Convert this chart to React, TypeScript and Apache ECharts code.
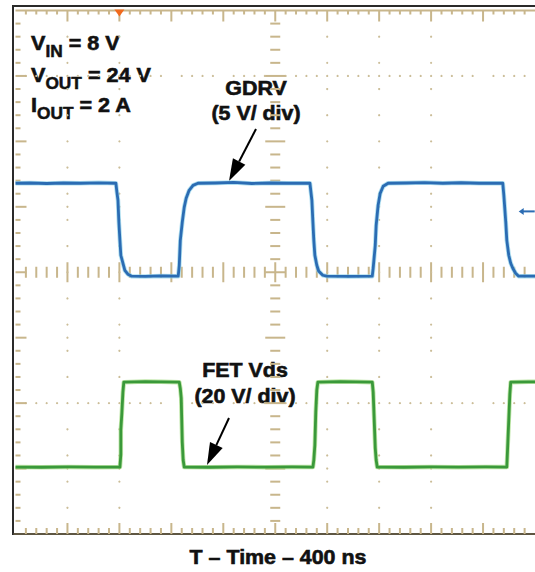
import React, { useEffect, useRef } from "react";
import * as echarts from "echarts";

// ---- scope settings ----
const NS_PER_DIV = 400; // T – Time – 400 ns
const X_DIVS = 10;
const Y_DIVS = 8;
const gdrvAxisRange: [number, number] = [-20, 20]; // 5 V/div, ground at centre
const fetAxisRange: [number, number] = [-20, 140]; // 20 V/div

// ---- GDRV trace: [time ns, volts] ----
const gdrvTrace: [number, number][] = [
  [0, 6.8], [110, 6.82], [240, 6.78], [370, 6.82], [500, 6.8], [640, 6.83], [773, 6.8],
  [781, 6.11], [789, 5.5], [796, 3.82], [804, 2.44], [811, 1.3], [827, 0.69], [842, 0.15], [865, -0.15], [895, -0.3],
  [1000, -0.32], [1120, -0.28], [1253, -0.3],
  [1261, 0.53], [1269, 2.44], [1284, 3.82], [1299, 4.96], [1314, 5.65], [1337, 6.26], [1367, 6.64], [1405, 6.8],
  [1540, 6.82], [1680, 6.86], [1820, 6.78], [1960, 6.82], [2100, 6.8], [2267, 6.8],
  [2282, 5.5], [2290, 3.82], [2297, 2.44], [2305, 1.3], [2320, 0.53], [2335, 0.08], [2366, -0.23], [2396, -0.3],
  [2570, -0.32], [2747, -0.3],
  [2754, 0.31], [2770, 2.06], [2777, 3.59], [2792, 5.12], [2808, 6.03], [2831, 6.57], [2869, 6.8],
  [3010, 6.82], [3150, 6.85], [3290, 6.8], [3430, 6.84], [3570, 6.8], [3752, 6.8],
  [3760, 5.9], [3775, 3.82], [3783, 2.44], [3798, 1.3], [3813, 0.69], [3829, 0.31], [3851, -0.08], [3874, -0.3],
  [4000, -0.3],
];

// ---- FET Vds trace: [time ns, volts] ----
const fetTrace: [number, number][] = [
  [0, 0.46], [200, 0.4], [410, 0.5], [620, 0.42], [804, 0.46],
  [811, 4.3], [811, 11.76], [819, 17], [827, 23.36], [834, 26.41],
  [1000, 26.6], [1120, 26.5], [1261, 26.41],
  [1269, 24.5], [1276, 21.53], [1284, 8.09], [1291, 2.6], [1299, 0.46],
  [1500, 0.4], [1710, 0.5], [1920, 0.42], [2130, 0.5], [2290, 0.46],
  [2297, 2.6], [2305, 7.2], [2312, 17.25], [2320, 23.97], [2328, 26.41],
  [2500, 26.6], [2620, 26.5], [2747, 26.41],
  [2754, 23.36], [2762, 14.81], [2770, 6.26], [2777, 2.6], [2785, 0.46],
  [2990, 0.4], [3200, 0.5], [3410, 0.42], [3620, 0.5], [3783, 0.46],
  [3790, 7.18], [3798, 14.81], [3806, 22.5], [3813, 26.41],
  [3950, 26.5], [4000, 26.5],
];

// ---- texts ----
const conditionLines = ["{b|V}{s|IN}{b| = 8 V}", "{b|V}{s|OUT}{b| = 24 V}", "{b|I}{s|OUT}{b| = 2 A}"];
const gdrvLabel = ["GDRV", "(5 V/ div)"];
const fetLabel = ["FET Vds", "(20 V/ div)"];
const xAxisTitle = "T – Time – 400 ns";

// graticule layout (in divisions)
const dottedRows = [2, 7];
const dottedCols = [1, 2, 6, 7, 8];

const FONT = "'Liberation Sans', Arial, Helvetica, sans-serif";
const TAN = "#c8b68c";
const DOT = "#cbbd98";
const INK = "#111";

function renderGraticule(params: any, api: any) {
  if (params.dataIndex !== 0) return null;
  const P = (t: number, d: number) => api.coord([t, d]);
  const children: any[] = [];
  const line = (x1: number, y1: number, x2: number, y2: number, color: string, w: number) =>
    children.push({ type: "line", silent: true, shape: { x1, y1, x2, y2 }, style: { stroke: color, lineWidth: w } });
  const dot = (x: number, y: number) =>
    children.push({ type: "circle", silent: true, shape: { cx: x, cy: y, r: 1.1 }, style: { fill: DOT } });
  const tMax = X_DIVS * NS_PER_DIV;
  const minorT = NS_PER_DIV / 5;
  const [lx, topY] = P(0, Y_DIVS);
  const [rx, botY] = P(tMax, 0);
  const [cx, cy] = P(tMax / 2, Y_DIVS / 2);

  line(lx, topY, rx, topY, TAN, 2);
  line(lx - 2, botY, rx, botY, "#5e5642", 2);

  for (let i = 1; i < X_DIVS * 5; i++) {
    const x = P(i * minorT, 0)[0];
    const major = i % 5 === 0;
    line(x, topY, x, topY + (major ? 11 : 4), TAN, 2);
    line(x, botY, x, botY - (major ? 11 : 6), TAN, 2);
    line(x, cy - (major ? 10 : 5.5), x, cy + (major ? 10 : 5.5), TAN, 2);
    if (!major) dottedRows.forEach((r) => dot(x, P(0, r)[1]));
  }
  for (let j = 1; j < Y_DIVS * 5; j++) {
    const y = P(0, j / 5)[1];
    const major = j % 5 === 0;
    line(lx, y, lx + (major ? 11 : 5), y, TAN, 2);
    line(cx - (major ? 10 : 5), y, cx + (major ? 10 : 5), y, TAN, 2);
    if (j % 2 === 0 || major) dottedCols.forEach((c) => dot(P(c * NS_PER_DIV, 0)[0], y));
  }

  // trigger position marker (orange) at top
  const [tx] = P(2 * NS_PER_DIV, 0);
  children.push({
    type: "polygon", silent: true,
    shape: { points: [[tx - 5, topY - 1], [tx + 5, topY - 1], [tx, topY + 6]] },
    style: { fill: "#f06a1e" },
  });
  // channel marker on the right
  const [mx, my] = P(3890, 4.93);
  children.push({
    type: "polygon", silent: true,
    shape: { points: [[mx - 2, my], [mx + 3, my - 3.5], [mx + 3, my + 3.5]] },
    style: { fill: "#2b6cb3" },
  });
  line(mx + 2, my, mx + 14, my, "#2b6cb3", 2);

  return { type: "group", children };
}

function arrow(x1: number, y1: number, tipX: number, tipY: number) {
  const dx = tipX - x1;
  const dy = tipY - y1;
  const len = Math.hypot(dx, dy);
  const ux = dx / len;
  const uy = dy / len;
  const hl = 22;
  const hw = 7;
  const bx = tipX - ux * hl;
  const by = tipY - uy * hl;
  return [
    { type: "line", silent: true, shape: { x1, y1, x2: bx, y2: by }, style: { stroke: "#000", lineWidth: 2 } },
    {
      type: "polygon", silent: true,
      shape: { points: [[tipX, tipY], [bx - uy * hw, by + ux * hw], [bx + uy * hw, by - ux * hw]] },
      style: { fill: "#000" },
    },
  ];
}

function boldText(text: string, x: number, y: number) {
  return {
    type: "text", silent: true, x, y, scaleX: 1.07,
    style: {
      text, fill: INK, stroke: INK, lineWidth: 0.6, font: `bold 20px ${FONT}`,
      fontSize: 20, fontWeight: "bold", fontFamily: FONT,
      align: "center", verticalAlign: "middle",
    },
  };
}

function conditionText(text: string, y: number) {
  return {
    type: "text", silent: true, x: 31, y, scaleX: 1.08,
    style: {
      text, align: "left", verticalAlign: "top", font: `bold 20px ${FONT}`,
      rich: {
        b: { fill: INK, stroke: INK, lineWidth: 0.6, font: `bold 20px ${FONT}`, fontSize: 20, fontWeight: "bold", fontFamily: FONT, lineHeight: 22, verticalAlign: "top" },
        s: { fill: INK, stroke: INK, lineWidth: 0.5, font: `bold 16px ${FONT}`, fontSize: 16, fontWeight: "bold", fontFamily: FONT, lineHeight: 27, verticalAlign: "bottom" },
      },
    },
  };
}

export default function App() {
  const ref = useRef<HTMLDivElement>(null);
  useEffect(() => {
    document.body.style.margin = "0";
    if (!ref.current) return;
    const chart = echarts.init(ref.current, undefined, { renderer: "svg" });
    const traceLine = (data: [number, number][], yIdx: number, color: string, width: number, z: number, opacity = 1) => ({
      type: "line",
      xAxisIndex: 0,
      yAxisIndex: yIdx,
      data,
      symbol: "none",
      showSymbol: false,
      silent: true,
      z,
      lineStyle: { color, width, opacity, join: "round" },
    });
    chart.setOption({
      animation: false,
      backgroundColor: "#ffffff",
      grid: { left: 15.5, top: 10.5, width: 525, height: 523.5, containLabel: false },
      xAxis: [{ type: "value", min: 0, max: X_DIVS * NS_PER_DIV, interval: NS_PER_DIV, show: false }],
      yAxis: [
        { type: "value", min: 0, max: Y_DIVS, interval: 1, show: false },
        { type: "value", min: gdrvAxisRange[0], max: gdrvAxisRange[1], interval: 5, show: false },
        { type: "value", min: fetAxisRange[0], max: fetAxisRange[1], interval: 20, show: false },
      ],
      series: [
        {
          type: "custom",
          xAxisIndex: 0,
          yAxisIndex: 0,
          data: [[0, 0]],
          renderItem: renderGraticule,
          silent: true,
          z: 1,
        },
        traceLine(gdrvTrace, 1, "#8fd2ea", 4.5, 2, 0.7),
        traceLine(gdrvTrace, 1, "#2b6cb3", 2.8, 3),
        traceLine(fetTrace, 2, "#a3dc82", 4.5, 2, 0.7),
        traceLine(fetTrace, 2, "#3a993a", 2.8, 3),
      ],
      graphic: [
        // frame
        { type: "line", silent: true, shape: { x1: 13, y1: 5, x2: 13, y2: 535 }, style: { stroke: "#2a2a2a", lineWidth: 2 } },
        { type: "line", silent: true, shape: { x1: 12, y1: 6, x2: 535, y2: 6 }, style: { stroke: "#2a2a2a", lineWidth: 2 } },
        conditionText(conditionLines[0], 33),
        conditionText(conditionLines[1], 65),
        conditionText(conditionLines[2], 95),
        boldText(gdrvLabel[0], 256, 88),
        boldText(gdrvLabel[1], 256, 113),
        boldText(fetLabel[0], 245, 370),
        boldText(fetLabel[1], 245, 396),
        boldText(xAxisTitle, 278, 557),
        ...arrow(256, 129, 229, 181),
        ...arrow(229, 418, 207, 465),
      ],
    });
    return () => chart.dispose();
  }, []);
  return <div ref={ref} style={{ width: 535, height: 572 }} />;
}
